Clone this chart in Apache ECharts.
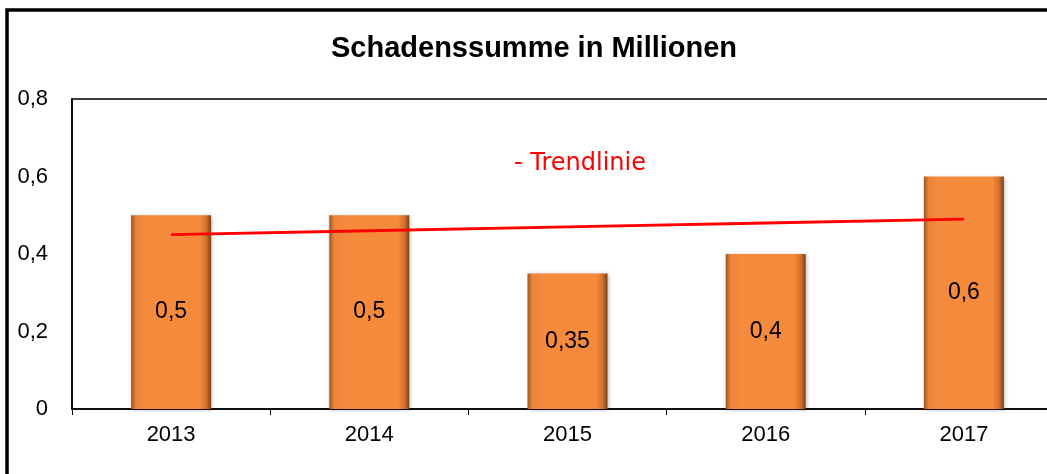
<!DOCTYPE html>
<html>
<head>
<meta charset="utf-8">
<script src="https://cdn.jsdelivr.net/npm/echarts@6/dist/echarts.min.js"></script>
<style>
html,body{margin:0;padding:0;background:#fff;overflow:hidden;}
#chart{width:1075px;height:474px;}
</style>
</head>
<body>
<div id="chart"></div>
<script>
var years = ['2013', '2014', '2015', '2016', '2017'];
var schaden = [0.5, 0.5, 0.35, 0.4, 0.6];
var trend = [0.45, 0.46, 0.47, 0.48, 0.49];
var yTicks = [0, 0.2, 0.4, 0.6, 0.8];

var komma = function(v){
	return String(v).replace('.', ',');
};

// the plot runs past the right edge of the picture, so the div is wider than the window
var myChart = echarts.init(document.getElementById('chart'));
var option = {
	backgroundColor: '#fff',
	animation: false,
	title: {
		text: 'Schadenssumme in Millionen',
		left: 326,
		top: 29,
		textStyle: {
			fontFamily: 'Liberation Sans',
			fontSize: 29,
			fontWeight: 'bold',
			color: '#000'
		}
	},
	legend: {
		data: ['Trendlinie'],
		left: 508,
		top: 152,
		padding: 0,
		itemWidth: 0,
		itemHeight: 0,
		selectedMode: false,
		formatter: function(){ return '- Trendlinie'; },
		textStyle: {
			color: '#ff0000',
			fontFamily: 'DejaVu Sans',
			fontSize: 24
		}
	},
	graphic: [{
		type: 'rect',
		shape: {x: 7, y: 10, width: 1200, height: 600},
		style: {fill: 'none', stroke: '#000', lineWidth: 3.5},
		silent: true
	}],
	grid: {
		left: 72,
		top: 99,
		width: 991,
		height: 310,
		show: true,
		borderColor: '#000',
		borderWidth: 1.5,
		containLabel: false
	},
	xAxis: {
		type: 'category',
		data: years,
		axisLine: {lineStyle: {color: '#000', width: 1.5}},
		axisTick: {show: true, length: 6, lineStyle: {color: '#000'}},
		axisLabel: {
			margin: 15,
			color: '#000',
			fontFamily: 'Liberation Sans',
			fontSize: 22
		}
	},
	yAxis: {
		type: 'value',
		min: 0,
		max: 0.8,
		interval: 0.2,
		splitLine: {show: false},
		axisLine: {show: true, lineStyle: {color: '#000', width: 1.5}},
		axisTick: {show: false},
		axisLabel: {
			margin: 24,
			color: '#000',
			fontFamily: 'Liberation Sans',
			fontSize: 22,
			formatter: function(v){
				return yTicks.indexOf(v) >= 0 ? komma(v) : '';
			}
		}
	},
	series: [{
		name: 'Schaden',
		type: 'bar',
		data: schaden,
		barWidth: 80,
		itemStyle: {
			color: new echarts.graphic.LinearGradient(0, 0, 1, 0, [
				{offset: 0, color: '#9a5520'},
				{offset: 0.06, color: '#ec843a'},
				{offset: 0.2, color: '#f68b3d'},
				{offset: 0.86, color: '#f58a3b'},
				{offset: 0.94, color: '#d0702c'},
				{offset: 1, color: '#7a4216'}
			]),
			shadowColor: 'rgba(0,0,0,0.25)',
			shadowBlur: 4,
			shadowOffsetX: 1,
			shadowOffsetY: 1
		},
		label: {
			show: true,
			position: 'inside',
			color: '#000',
			fontFamily: 'Liberation Sans',
			fontSize: 23,
			formatter: function(p){ return komma(p.value); }
		}
	}, {
		name: 'Trendlinie',
		type: 'line',
		data: trend,
		symbol: 'none',
		lineStyle: {color: '#ff0000', width: 3},
		itemStyle: {color: '#ff0000'},
		z: 5
	}]
};
myChart.setOption(option);
window.onresize = function(){
	myChart.resize();
};
</script>
</body>
</html>
